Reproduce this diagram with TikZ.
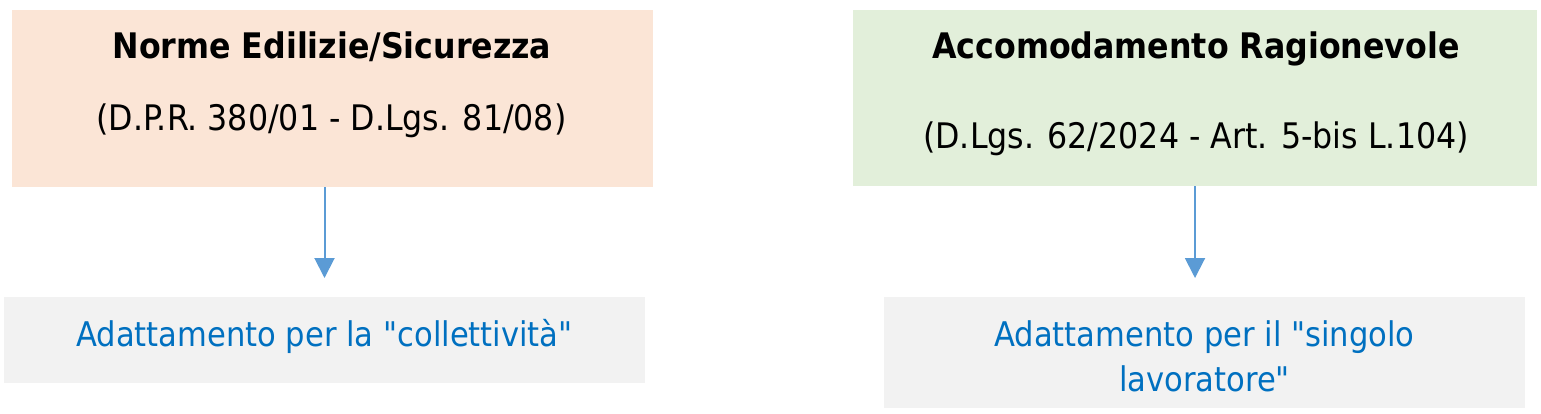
\documentclass[tikz,border=0pt]{standalone}
\usepackage{fontspec}
\setmainfont{DejaVu Sans Condensed}
\usetikzlibrary{arrows.meta, calc}
\definecolor{peach}{HTML}{FBE5D6}
\definecolor{verdino}{HTML}{E2EFDA}
\definecolor{grigio}{HTML}{F2F2F2}
\definecolor{freccia}{HTML}{5B9BD5}
\definecolor{testoblu}{HTML}{0070C0}
\tikzstyle{box} = [inner sep=0, outer sep=0, draw=none]
\tikzstyle{title} = [font=\fontsize{17.6}{21}\selectfont\bfseries, inner sep=0, anchor=base]
\tikzstyle{law} = [font=\fontsize{17.6}{21}\selectfont, inner sep=0, anchor=base]
\tikzstyle{result} = [font=\fontsize{17}{22.8}\selectfont, text=testoblu, align=center, text depth=6pt]
\tikzstyle{arrow} = [freccia, line width=1pt, -{Triangle[width=10pt,length=10pt]}, shorten >=9.5pt]

\begin{document}
\begin{tikzpicture}[x=0.5pt, y=-0.5pt]
		% Frame
		\useasboundingbox (0,0) rectangle (1541,413);
		
		% Boxes
		\node[box, fill=peach, minimum width=320.5pt, minimum height=88.5pt] (norme) at (332.5,98.5) {};
		\node[box, fill=verdino, minimum width=342pt, minimum height=88pt] (accomodamento) at (1195,98) {};
		\node[box, result, fill=grigio, minimum width=320.5pt, minimum height=43pt, text height=12pt] (collettivo) at (324.5,340) {Adattamento per la \textquotedbl collettività\textquotedbl};
		\node[box, result, fill=grigio, minimum width=320.5pt, minimum height=55.5pt, text height=45.2pt] (singolo) at (1204.5,352.5) {Adattamento per il \textquotedbl singolo\\lavoratore\textquotedbl};
		
		% Texts
		\node[title] (normeT) at (332,58) {Norme Edilizie/Sicurezza};
		\node[law] (normeL) at (331.5,130) {(D.P.R. 380/01 - D.Lgs. 81/08)};
		\node[title] (accomodamentoT) at (1196,58) {Accomodamento Ragionevole};
		\node[law] (accomodamentoL) at (1196,148) {(D.Lgs. 62/2024 - Art. 5-bis L.104)};
		
		% Arrows
		\draw[arrow] (norme.south -| collettivo.north) -- (collettivo.north);
		\draw[arrow] (accomodamento.south) -- (accomodamento.south |- singolo.north);
	\end{tikzpicture}
\end{document}
